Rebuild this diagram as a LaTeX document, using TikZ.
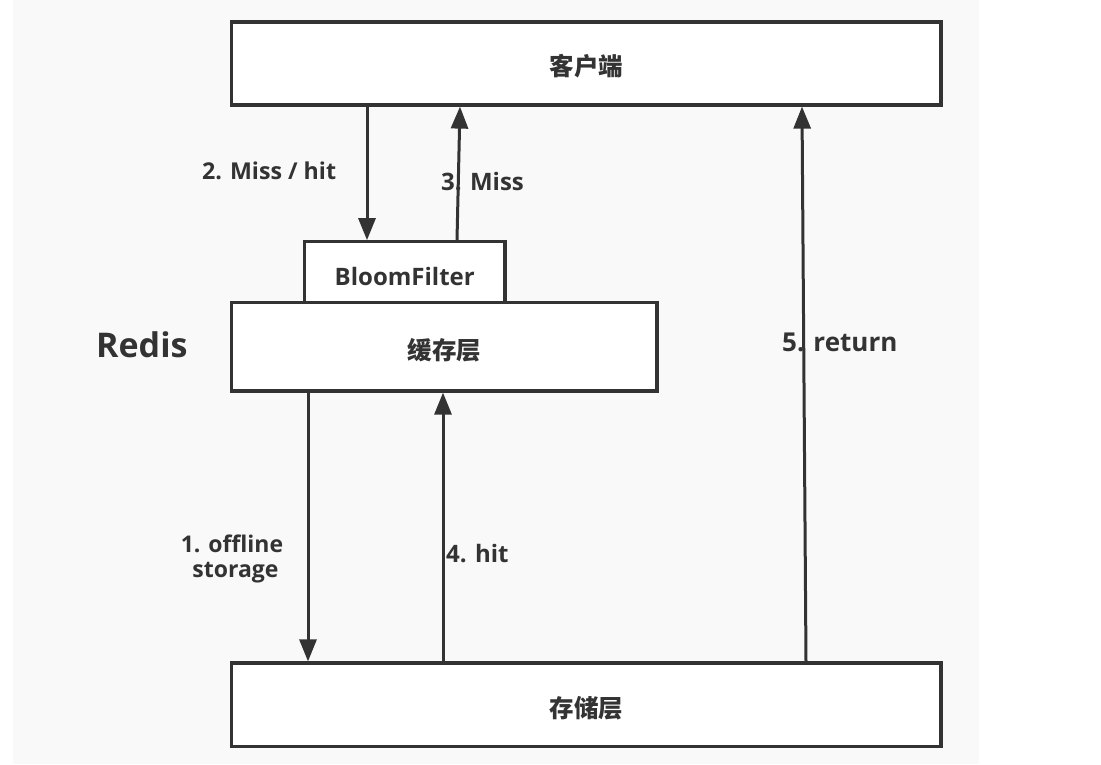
\documentclass[tikz,border=0pt]{standalone}
\usepackage{fontspec}
\setmainfont{Open Sans}
\newfontfamily\cjk{Noto Sans CJK SC}
\usetikzlibrary{arrows.meta}
\definecolor{ink}{HTML}{333333}
\definecolor{bg}{HTML}{F9F9F9}
\newcommand{\lowered}[2]{\raisebox{-#1}[\height][\depth]{#2}}
\begin{document}
\begin{tikzpicture}[x=1pt,y=-1pt,
  box/.style={draw=ink, fill=white, line width=3.2pt, inner sep=0pt, text=ink,
              font=\cjk\bfseries\fontsize{24.5}{28}\selectfont},
  lbl/.style={text=ink, font=\bfseries\fontsize{24}{28}\selectfont, inner sep=0pt},
  arr/.style={draw=ink, line width=3pt, -{Triangle[length=22pt,width=17pt]}}]
\useasboundingbox (0,0) rectangle (1101,764);
\fill[white] (0,0) rectangle (1101,764);
\fill[bg] (13,0) rectangle (979,764);
% boxes
\node[box, minimum width=709.5pt, minimum height=83pt] (client) at (586.25,63.5) {\lowered{3pt}{客户端}};
\node[box, minimum width=200.5pt, minimum height=60.5pt,
      font=\bfseries\fontsize{24}{28}\selectfont] (bloom) at (404.75,272) {\lowered{4pt}{BloomFilter}};
\node[box, minimum width=425.5pt, minimum height=88.5pt] (cache) at (444.25,346.75) {\lowered{4pt}{缓存层}};
\node[box, minimum width=709.5pt, minimum height=83.5pt] (store) at (586.25,704.75) {\lowered{3pt}{存储层}};
% x positions of connectors
\coordinate (x2) at (367,0);
\coordinate (x3a) at (457,0);
\coordinate (x3b) at (460,0);
\coordinate (x1) at (308,0);
\coordinate (x4) at (443,0);
\coordinate (x5a) at (806,0);
\coordinate (x5b) at (802,0);
% connectors
\draw[arr] (x2 |- client.south) -- (x2 |- bloom.north);
\draw[arr] (x3a |- bloom.north) -- (x3b |- client.south);
\draw[arr] (x1 |- cache.south) -- (x1 |- store.north);
\draw[arr] (x4 |- store.north) -- (x4 |- cache.south);
\draw[arr] (x5a |- store.north) -- (x5b |- client.south);
% labels
\node[lbl, anchor=base west, font=\bfseries\fontsize{23.2}{28}\selectfont] (l2) at (202,179.5) {2. Miss / hit};
\node[lbl, anchor=base west] (l3) at (441,190) {3. Miss};
\node[lbl, anchor=base west, font=\bfseries\fontsize{34}{40}\selectfont] (redis) at (96,357) {Redis};
\node[lbl, anchor=base west, font=\bfseries\fontsize{26}{30}\selectfont] (l5) at (782,351) {5. return};
\node[lbl, anchor=base, font=\bfseries\fontsize{23}{28}\selectfont] (l1a) at (232,552) {1. offline};
\node[lbl, anchor=base, font=\bfseries\fontsize{23}{28}\selectfont] (l1b) at (235.5,577) {storage};
\node[lbl, anchor=base west] (l4) at (446,562) {4. hit};
\end{tikzpicture}
\end{document}
